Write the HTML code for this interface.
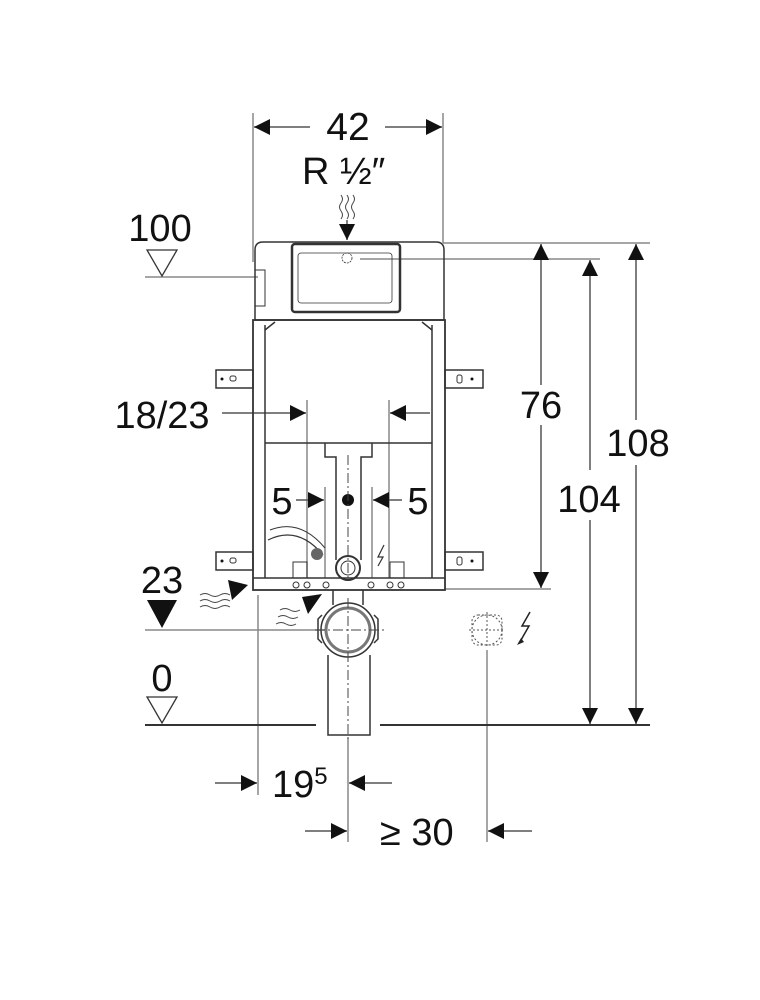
<!DOCTYPE html>
<html><head><meta charset="utf-8"><style>
html,body{margin:0;padding:0;background:#fff}
svg{display:block}
text{font-family:"Liberation Sans",sans-serif;fill:#111}
</style></head><body>
<svg width="760" height="1000" viewBox="0 0 760 1000" xmlns="http://www.w3.org/2000/svg">
<defs>
<marker id="a" viewBox="0 0 10 10" refX="10" refY="5" markerWidth="19" markerHeight="16" markerUnits="userSpaceOnUse" orient="auto"><path d="M0,0L10,5L0,10z" fill="#111"/></marker>
</defs>
<g stroke="#888" stroke-width="1.5" fill="none">
<line x1="253" y1="113" x2="253" y2="262"/>
<line x1="443" y1="113" x2="443" y2="243"/>
<line x1="443" y1="243" x2="650" y2="243"/>
<line x1="360" y1="259" x2="600" y2="259"/>
<line x1="445" y1="589" x2="551" y2="589"/>
<line x1="145" y1="277" x2="258" y2="277"/>
<line x1="145" y1="630" x2="325" y2="630"/>
<line x1="258" y1="595" x2="258" y2="795"/>
<line x1="348" y1="738" x2="348" y2="842"/>
<line x1="487" y1="650" x2="487" y2="842"/>
<line x1="307" y1="400" x2="307" y2="578"/>
<line x1="389" y1="400" x2="389" y2="578"/>
<line x1="325" y1="487" x2="325" y2="578"/>
<line x1="372" y1="487" x2="372" y2="578"/>
</g>
<g stroke="#333" stroke-width="2">
<line x1="145" y1="725" x2="316" y2="725"/>
<line x1="380" y1="725" x2="650" y2="725"/>
</g>
<g stroke="#555" stroke-width="1.5" fill="none">
<line x1="310" y1="127" x2="254" y2="127" marker-end="url(#a)"/>
<line x1="385" y1="127" x2="442" y2="127" marker-end="url(#a)"/>
<line x1="541" y1="385" x2="541" y2="244" marker-end="url(#a)"/>
<line x1="541" y1="425" x2="541" y2="588" marker-end="url(#a)"/>
<line x1="590" y1="470" x2="590" y2="260" marker-end="url(#a)"/>
<line x1="590" y1="520" x2="590" y2="724" marker-end="url(#a)"/>
<line x1="636" y1="420" x2="636" y2="244" marker-end="url(#a)"/>
<line x1="636" y1="465" x2="636" y2="724" marker-end="url(#a)"/>
<line x1="222" y1="413" x2="306" y2="413" marker-end="url(#a)"/>
<line x1="430" y1="413" x2="390" y2="413" marker-end="url(#a)"/>
<line x1="296" y1="500" x2="324" y2="500" marker-end="url(#a)"/>
<line x1="402" y1="500" x2="373" y2="500" marker-end="url(#a)"/>
<line x1="215" y1="783" x2="257" y2="783" marker-end="url(#a)"/>
<line x1="392" y1="783" x2="349" y2="783" marker-end="url(#a)"/>
<line x1="305" y1="831" x2="347" y2="831" marker-end="url(#a)"/>
<line x1="532" y1="831" x2="488" y2="831" marker-end="url(#a)"/>
<line x1="347" y1="220" x2="347" y2="240" marker-end="url(#a)"/>
</g>
<g stroke="#333" stroke-width="1.3" fill="none">
<path d="M147,250L177,250L162,276z"/>
<path d="M147,697L177,697L162,723z"/>
</g>
<path d="M147,600L177,600L162,628z" fill="#111"/>
<g stroke="#444" stroke-width="1" fill="none">
<path d="M341,195q3,4 0,8t0,8t0,8"/><path d="M347,195q3,4 0,8t0,8t0,8"/><path d="M353,195q3,4 0,8t0,8t0,8"/>
<path d="M200,595q5,-3 10,0t10,0t10,0"/><path d="M200,601q5,-3 10,0t10,0t10,0"/><path d="M200,607q5,-3 10,0t10,0t10,0"/>
<path d="M280,610q5,-3 10,0t10,0"/><path d="M278,617q5,-3 10,0t10,0"/><path d="M276,624q5,-3 10,0t10,0"/>
</g>
<path d="M228,580L248,585L232,600z" fill="#111"/>
<path d="M302,597L322,594L308,614z" fill="#111"/>
<g stroke="#333" stroke-width="1.5" fill="none">
<path d="M255,250q0,-8 8,-8L436,242q8,0 8,8L444,320L255,320z"/>
<rect x="292" y="244" width="108" height="68" rx="3" stroke-width="2.5"/>
<rect x="298" y="253" width="94" height="50" rx="3" stroke-width="0.8"/>
<circle cx="347" cy="258" r="5" stroke-width="0.8" stroke-dasharray="2 1"/>
<rect x="255" y="270" width="10" height="36" stroke-width="1"/>
<rect x="253" y="320" width="192" height="270" stroke-width="1.8"/>
<line x1="265" y1="325" x2="265" y2="578"/>
<line x1="432" y1="325" x2="432" y2="578"/>
<path d="M265,330l10,-8M432,330l-10,-8"/>
<line x1="265" y1="443" x2="432" y2="443"/>
<line x1="253" y1="578" x2="445" y2="578"/>
<rect x="216" y="370" width="37" height="18"/>
<rect x="216" y="552" width="37" height="18"/>
<rect x="445" y="370" width="38" height="18"/>
<rect x="445" y="552" width="38" height="18"/>
<path d="M325,443L325,457L336,457L336,560M372,443L372,457L361,457L361,560"/>
<circle cx="348" cy="568" r="12" stroke-width="2"/>
<circle cx="348" cy="568" r="7" stroke-width="1"/>
<rect x="293" y="562" width="14" height="16" stroke-width="1"/>
<rect x="390" y="562" width="14" height="16" stroke-width="1"/>
<path d="M268,540q30,-15 55,15" stroke-width="1.2"/>
<path d="M270,530q30,-12 55,18" stroke-width="1"/>
</g>
<g fill="none" stroke="#333" stroke-width="1">
<circle cx="296" cy="585" r="3"/><circle cx="307" cy="585" r="3"/><circle cx="326" cy="585" r="3"/>
<circle cx="371" cy="585" r="3"/><circle cx="390" cy="585" r="3"/><circle cx="401" cy="585" r="3"/>
<rect x="230" y="376" width="6" height="5" rx="2"/><rect x="230" y="558" width="6" height="5" rx="2"/>
<rect x="457" y="375" width="5" height="8" rx="2"/><rect x="457" y="557" width="5" height="8" rx="2"/>
</g>
<circle cx="222" cy="379" r="1.5" fill="#111"/><circle cx="222" cy="561" r="1.5" fill="#111"/>
<circle cx="472" cy="379" r="1.5" fill="#111"/><circle cx="472" cy="561" r="1.5" fill="#111"/>
<circle cx="348" cy="500" r="6" fill="#111"/>
<circle cx="317" cy="554" r="6" fill="#666"/>
<path d="M384,545l-6,12 5,0 -5,9" stroke="#333" stroke-width="1.2" fill="none"/>
<g stroke="#333" stroke-width="1.5" fill="none">
<path d="M333,590L333,605M363,590L363,605"/>
<circle cx="348" cy="630" r="27"/>
<circle cx="348" cy="630" r="22" stroke-width="3" stroke="#777"/>
<path d="M322,615l-4,4 0,20 4,4M374,615l4,4 0,20 -4,4"/>
<path d="M328,655L328,735L370,735L370,655"/>
</g>
<g stroke="#444" stroke-width="1" stroke-dasharray="10 3 2 3" fill="none">
<line x1="348" y1="455" x2="348" y2="580"/>
<line x1="348" y1="598" x2="348" y2="740"/>
<line x1="315" y1="630" x2="385" y2="630"/>
</g>
<g stroke="#555" stroke-width="1" stroke-dasharray="2 2" fill="none">
<circle cx="487" cy="630" r="15"/><rect x="472" y="615" width="30" height="30" rx="6"/>
<line x1="487" y1="612" x2="487" y2="648"/><line x1="469" y1="630" x2="505" y2="630"/>
</g>
<path d="M530,612l-8,14 7,0 -8,14" stroke="#222" stroke-width="1.5" fill="none"/>
<path d="M517,645l4,-7 3,4z" fill="#222"/>
<text x="348" y="140" font-size="39" text-anchor="middle">42</text>
<text x="302" y="184" font-size="38">R ½″</text>
<text x="160" y="241" font-size="38" text-anchor="middle">100</text>
<text x="162" y="428" font-size="38" text-anchor="middle">18/23</text>
<text x="282" y="514" font-size="38" text-anchor="middle">5</text>
<text x="418" y="514" font-size="38" text-anchor="middle">5</text>
<text x="541" y="418" font-size="38" text-anchor="middle">76</text>
<text x="589" y="512" font-size="38" text-anchor="middle">104</text>
<text x="638" y="456" font-size="38" text-anchor="middle">108</text>
<text x="162" y="593" font-size="38" text-anchor="middle">23</text>
<text x="162" y="691" font-size="38" text-anchor="middle">0</text>
<text x="272" y="797" font-size="38">19<tspan font-size="24" dy="-13">5</tspan></text>
<text x="380" y="845" font-size="38">≥ 30</text>
</svg>
</body></html>
